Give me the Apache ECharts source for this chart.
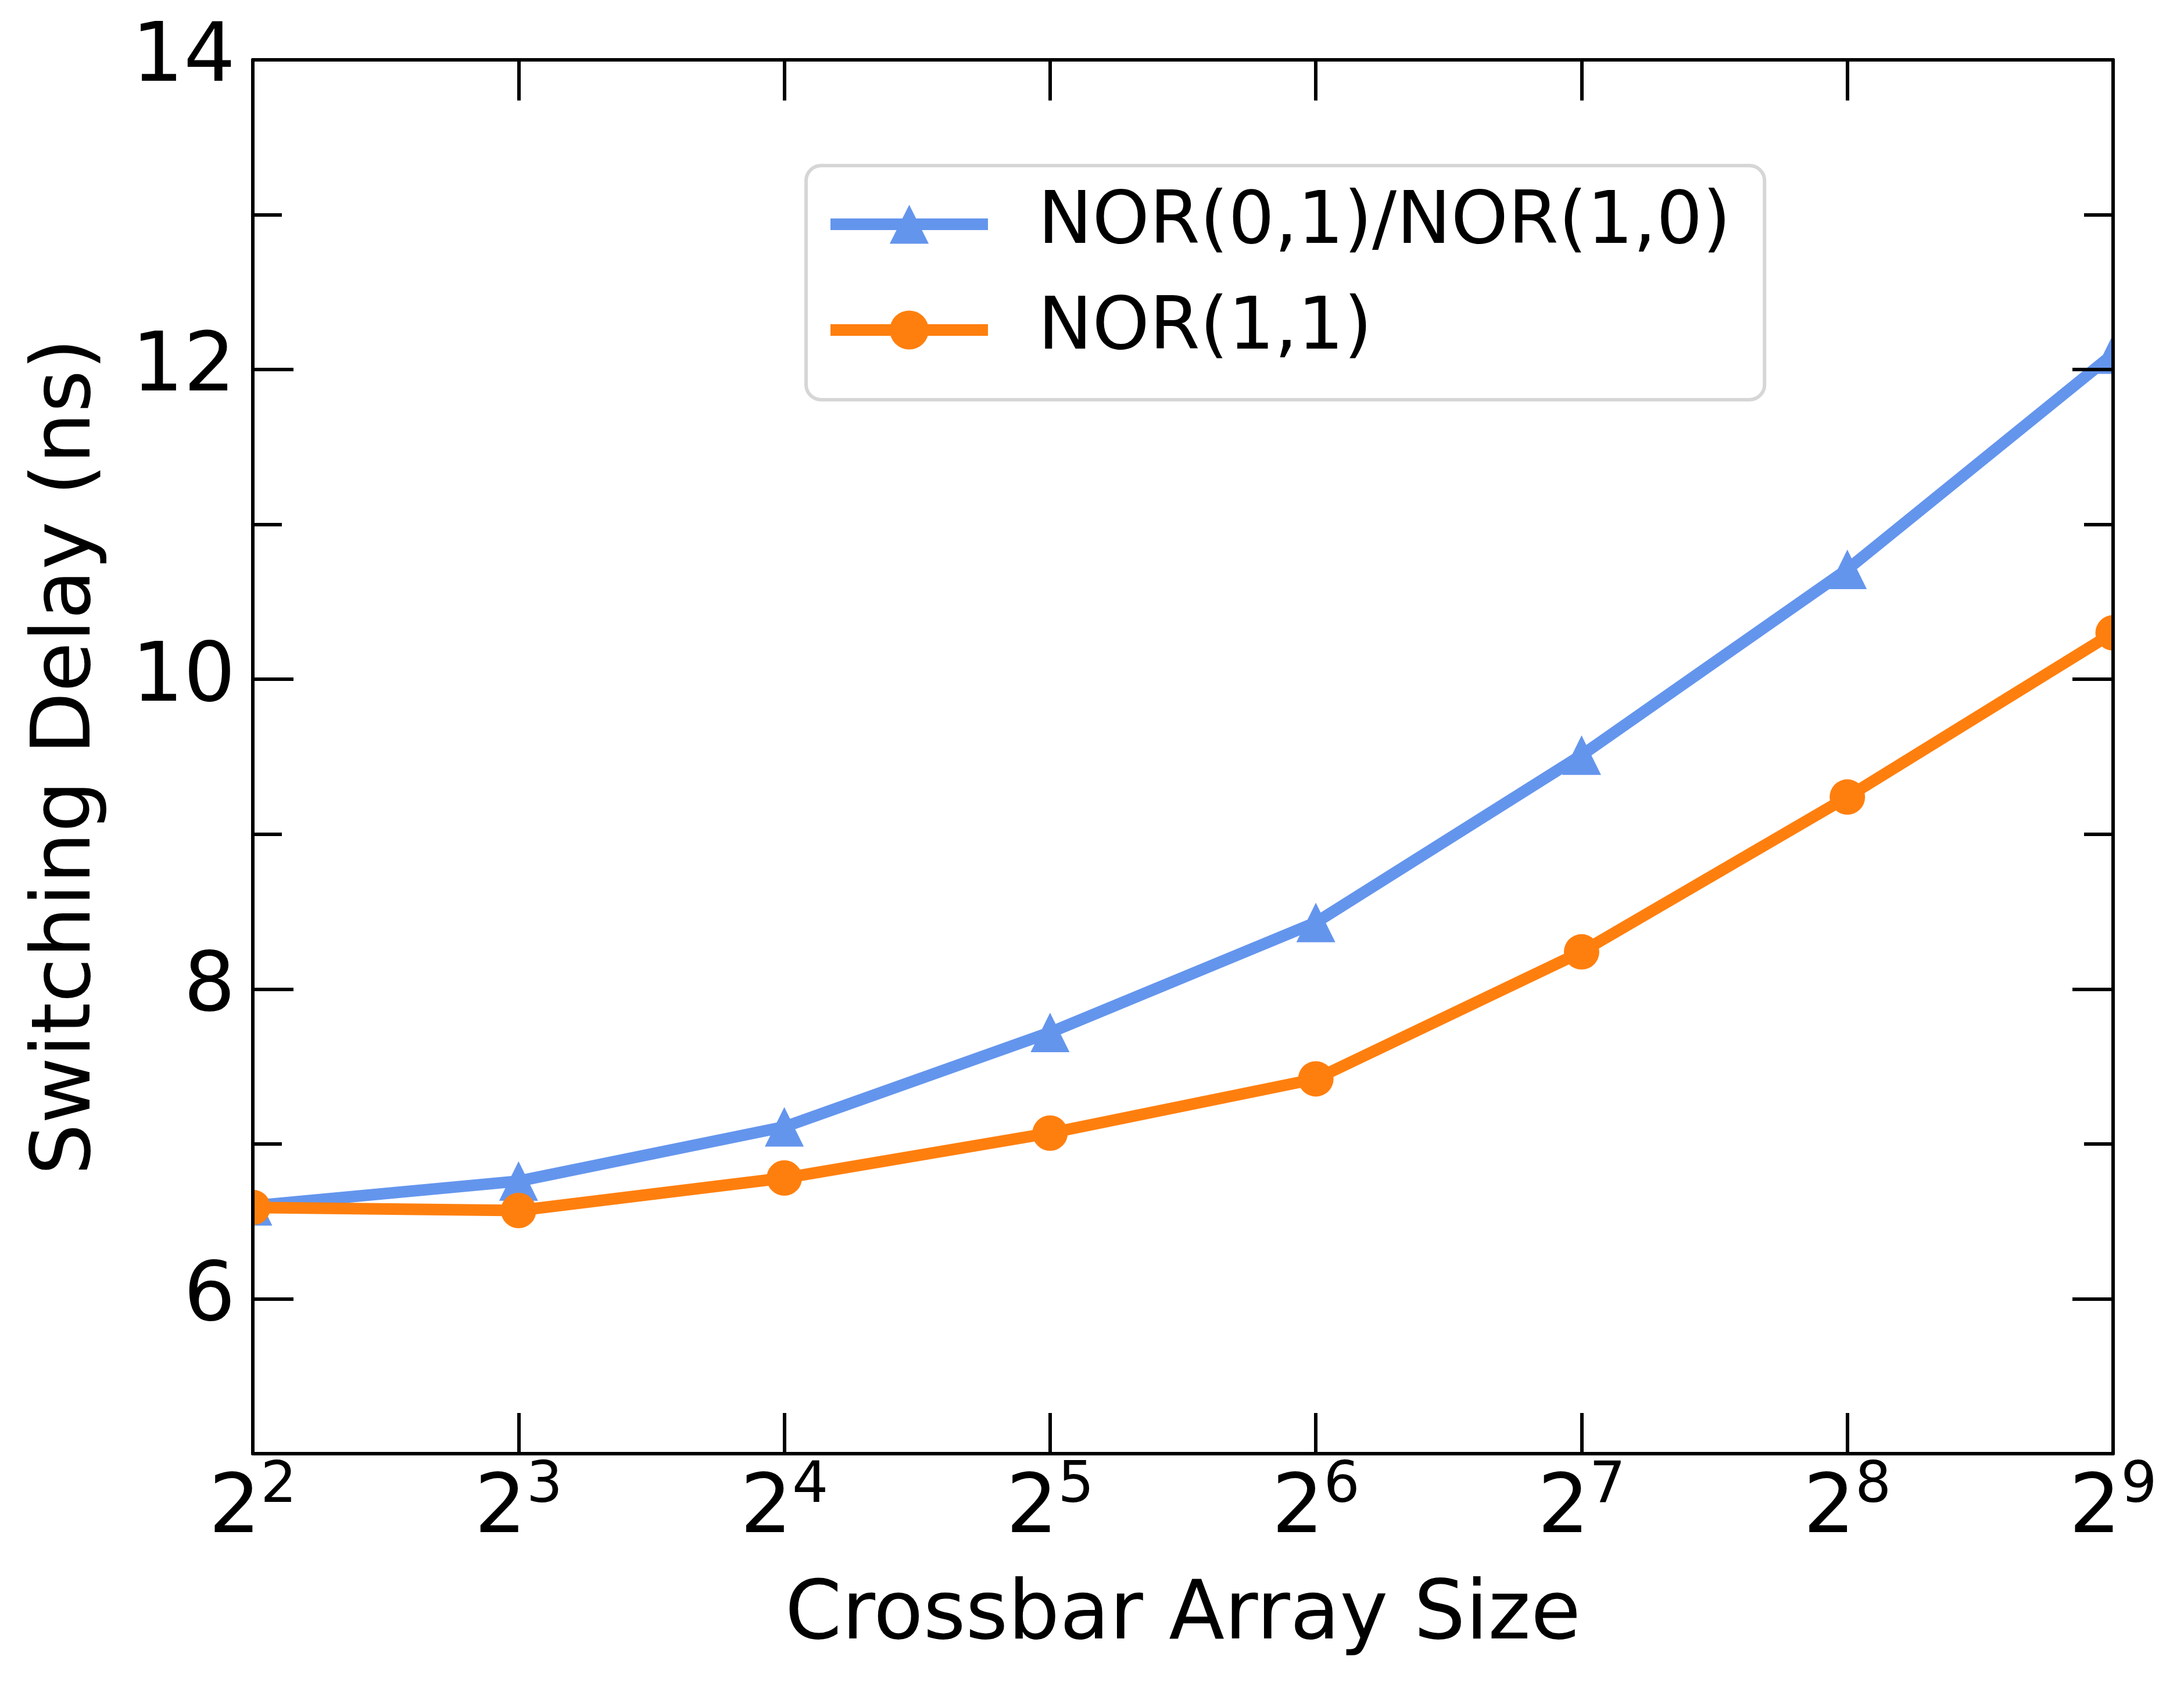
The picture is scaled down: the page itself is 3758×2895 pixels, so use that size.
<!DOCTYPE html>
<html>
<head>
<meta charset="utf-8">
<script src="https://cdn.jsdelivr.net/npm/echarts@6/dist/echarts.min.js"></script>
<style>
  html, body { margin: 0; padding: 0; background: #fff; }
  #chart { width: 3758px; height: 2895px; }
</style>
</head>
<body>
<div id="chart"></div>
<script>
// crossbar sizes as powers of two (2^2 ... 2^9)
const exponents = [2, 3, 4, 5, 6, 7, 8, 9];
const nor01 = [6.60, 6.76, 7.11, 7.72, 8.43, 9.51, 10.71, 12.10];
const nor11 = [6.59, 6.57, 6.78, 7.07, 7.42, 8.24, 9.24, 10.30];

const seriesNames = ['NOR(0,1)/NOR(1,0)', 'NOR(1,1)'];
const yMajorTicks = [6, 8, 10, 12, 14];
const yMinorTicks = [7, 9, 11, 13];
const xTicks = [2, 3, 4, 5, 6, 7, 8, 9];

const FONT = 'DejaVu Sans';
const AXIS_W = 6;
const LINE_W = 20;

const chart = echarts.init(document.getElementById('chart'));

const pairs = (ys) => exponents.map((e, i) => [e, ys[i]]);

const baseAxisLine = { show: true, lineStyle: { color: '#000', width: AXIS_W } };

const xBase = {
  type: 'value', min: 2, max: 9, z: 10,
  splitLine: { show: false },
  axisLine: { ...baseAxisLine, onZero: false },
  axisTick: { show: true, inside: true, length: 70, customValues: xTicks,
    lineStyle: { color: '#000', width: AXIS_W } }
};

const yBase = {
  type: 'value', min: 5, max: 14, z: 10,
  splitLine: { show: false },
  axisLine: { ...baseAxisLine, onZero: false }
};

const majorTick = { show: true, inside: true, length: 70, customValues: yMajorTicks,
  lineStyle: { color: '#000', width: AXIS_W } };
const minorTick = { show: true, inside: true, length: 50, customValues: yMinorTicks,
  lineStyle: { color: '#000', width: AXIS_W } };

const options = {
  animation: false,
  backgroundColor: '#fff',
  grid: { left: 435, right: 122, top: 103, bottom: 393 },
  // white masks so markers sitting on the frame get cut at the axes, like matplotlib clipping
  graphic: [
    { type: 'rect', left: 0, top: 0, z: 5, silent: true,
      shape: { width: 432, height: 2895 }, style: { fill: '#fff' } },
    { type: 'rect', right: 0, top: 0, z: 5, silent: true,
      shape: { width: 119, height: 2895 }, style: { fill: '#fff' } }
  ],
  legend: {
    orient: 'vertical',
    left: 1387,
    top: 285,
    padding: [36, 58, 55, 32],
    itemGap: 52,
    itemWidth: 271,
    itemHeight: 84,
    backgroundColor: '#fff',
    borderColor: '#d6d6d6',
    borderWidth: 6,
    borderRadius: 26,
    lineStyle: { width: LINE_W },
    textStyle: { fontFamily: FONT, fontSize: 125, color: '#000', lineHeight: 130,
      padding: [0, 0, 0, 81] },
    data: seriesNames
  },
  xAxis: [
    {
      ...xBase,
      position: 'bottom',
      name: 'Crossbar Array Size',
      nameLocation: 'middle',
      nameGap: 212,
      nameTextStyle: { fontFamily: FONT, fontSize: 140, color: '#000' },
      axisLabel: {
        show: true,
        margin: 9,
        customValues: xTicks,
        formatter: (v) => '{b|2}{s|' + v + '}',
        rich: {
          b: { fontFamily: FONT, fontSize: 140, color: '#000', lineHeight: 180 },
          s: { fontFamily: FONT, fontSize: 98, color: '#000', lineHeight: 98, verticalAlign: 'top' }
        }
      }
    },
    { ...xBase, position: 'top', axisLabel: { show: false } }
  ],
  yAxis: [
    {
      ...yBase,
      position: 'left',
      name: 'Switching Delay (ns)',
      nameLocation: 'middle',
      nameGap: 247,
      nameTextStyle: { fontFamily: FONT, fontSize: 140, color: '#000' },
      axisTick: majorTick,
      axisLabel: { show: true, margin: 30, customValues: yMajorTicks,
        fontFamily: FONT, fontSize: 140, color: '#000' }
    },
    { ...yBase, position: 'left', axisLine: { show: false }, axisTick: minorTick, axisLabel: { show: false } },
    { ...yBase, position: 'right', axisTick: majorTick, axisLabel: { show: false } },
    { ...yBase, position: 'right', axisLine: { show: false }, axisTick: minorTick, axisLabel: { show: false } }
  ],
  series: [
    {
      name: seriesNames[0],
      type: 'line',
      xAxisIndex: 0, yAxisIndex: 0,
      data: pairs(nor01),
      symbol: 'triangle',
      symbolSize: [67, 68],
      color: '#6495ed',
      lineStyle: { width: LINE_W, color: '#6495ed', join: 'round' },
      itemStyle: { color: '#6495ed' }
    },
    {
      name: seriesNames[1],
      type: 'line',
      xAxisIndex: 0, yAxisIndex: 0,
      data: pairs(nor11),
      symbol: 'circle',
      symbolSize: 61,
      color: '#ff7f0e',
      lineStyle: { width: LINE_W, color: '#ff7f0e', join: 'round' },
      itemStyle: { color: '#ff7f0e' }
    }
  ]
};

chart.setOption(options);
</script>
</body>
</html>
